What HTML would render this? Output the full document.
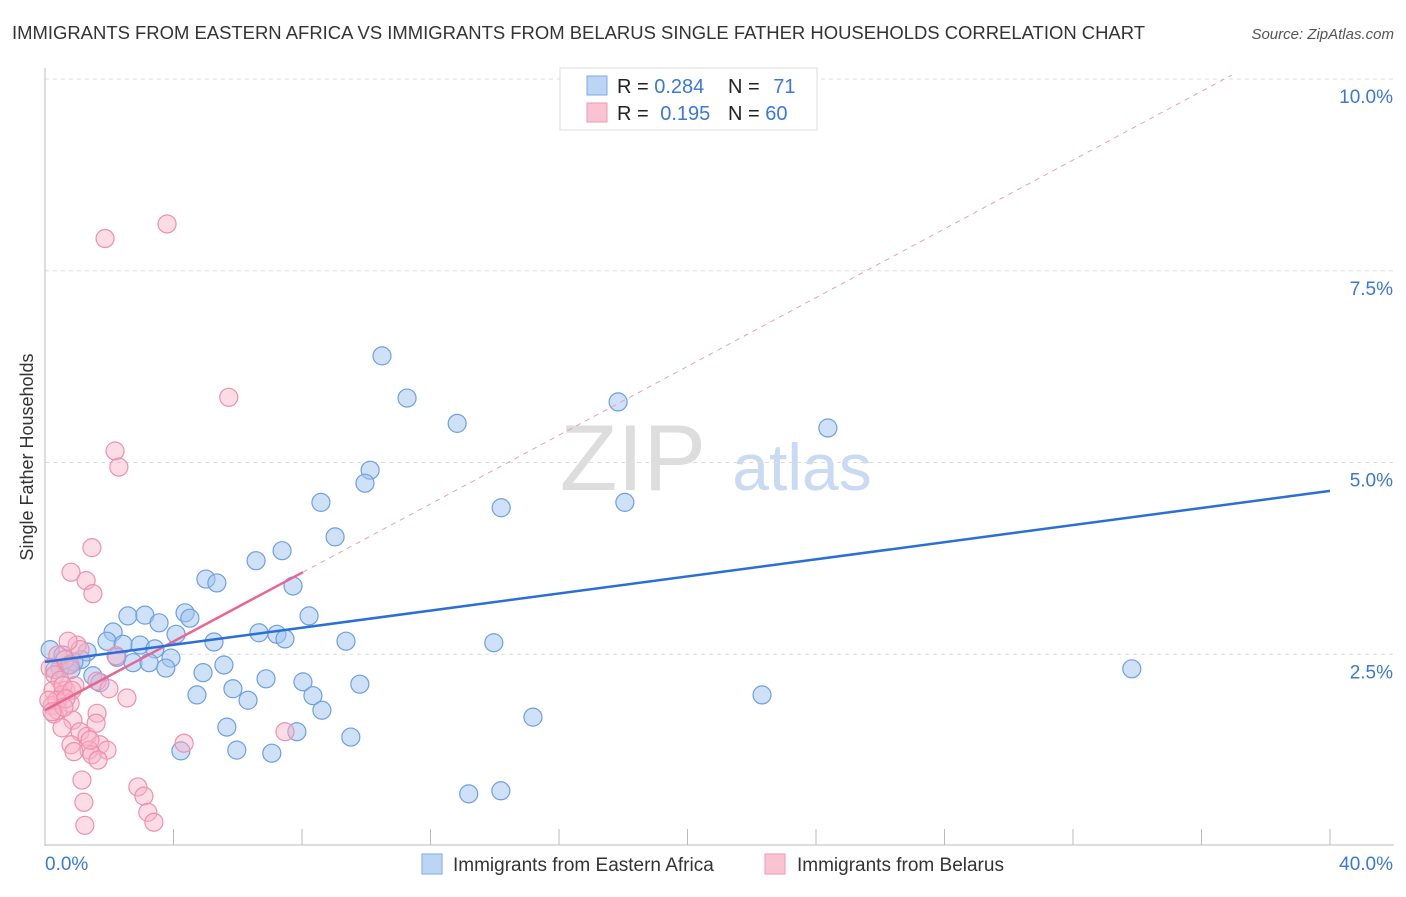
<!DOCTYPE html>
<html><head><meta charset="utf-8">
<style>
body{margin:0;background:#fff;font-family:"Liberation Sans",sans-serif;}
svg text{font-family:"Liberation Sans",sans-serif;}
</style></head>
<body>
<svg id="chart" width="1406" height="892" xmlns="http://www.w3.org/2000/svg">
<text x="12" y="39" font-size="18" fill="#333" textLength="1133" lengthAdjust="spacingAndGlyphs">IMMIGRANTS FROM EASTERN AFRICA VS IMMIGRANTS FROM BELARUS SINGLE FATHER HOUSEHOLDS CORRELATION CHART</text>
<text x="1394" y="39" font-size="15" fill="#555" font-style="italic" text-anchor="end">Source: ZipAtlas.com</text>
<text x="33" y="457" font-size="18" fill="#333" text-anchor="middle" transform="rotate(-90 33 457)">Single Father Households</text>
<text x="633" y="490" font-size="94" fill="#ddd" font-family="Liberation Serif" text-anchor="middle">ZIP</text>
<text x="802" y="490" font-size="66" fill="#c8dbf3" text-anchor="middle">atlas</text>
<g id="grid"></g><g id="axes"></g><g id="pts"></g><g id="lines"></g>
<g>
<rect x="560" y="68" width="257" height="62" fill="#fff" stroke="#ddd"/>
<rect x="587" y="76" width="20" height="19" fill="#bcd4f6" stroke="#7fa9e6"/>
<rect x="587" y="103" width="20" height="19" fill="#f9c3d3" stroke="#ef9ab4"/>
<text x="617" y="93" font-size="20" fill="#222">R = <tspan fill="#3a78d8">0.284</tspan></text>
<text x="728" y="93" font-size="20" fill="#222">N = <tspan fill="#3a78d8" dx="8">71</tspan></text>
<text x="617" y="120" font-size="20" fill="#222">R = <tspan fill="#3a78d8" dx="6">0.195</tspan></text>
<text x="728" y="120" font-size="20" fill="#222">N = <tspan fill="#3a78d8">60</tspan></text>
</g>
<g>
<rect x="422" y="854" width="20" height="20" fill="#bcd4f6" stroke="#7fa9e6"/>
<text x="453" y="871" font-size="19" fill="#333">Immigrants from Eastern Africa</text>
<rect x="765" y="854" width="20" height="20" fill="#f9c3d3" stroke="#ef9ab4"/>
<text x="797" y="871" font-size="19" fill="#333">Immigrants from Belarus</text>
</g>
</svg>
<script>
const xTicks=[0,40];
const yTicks=[2.5,5.0,7.5,10.0];
const blueX=[10.49,11.27,12.83,17.84,24.37,10.12,9.96,8.59,14.20,18.05,9.03,7.38,6.57,7.72,5.01,5.35,2.58,3.11,4.36,4.51,3.55,8.22,2.12,4.08,6.66,7.22,7.47,9.37,5.26,13.97,1.93,2.43,2.96,3.42,1.31,1.12,2.24,2.74,3.24,3.92,3.76,5.57,4.92,6.88,8.03,9.80,1.49,1.71,5.85,4.73,6.32,8.34,8.62,15.19,22.32,33.83,5.66,7.84,9.52,4.23,5.97,7.06,13.19,14.19,0.47,0.72,0.90,0.31,0.16,0.56,0.81];
const blueY=[6.39,5.84,5.51,5.79,5.45,4.90,4.73,4.48,4.41,4.48,4.03,3.85,3.72,3.39,3.48,3.43,3.00,3.01,3.04,2.97,2.91,3.00,2.79,2.76,2.78,2.76,2.70,2.67,2.66,2.65,2.67,2.63,2.62,2.57,2.53,2.43,2.46,2.39,2.39,2.45,2.32,2.36,2.26,2.18,2.14,2.11,2.22,2.13,2.05,1.97,1.90,1.96,1.77,1.68,1.97,2.31,1.55,1.49,1.42,1.24,1.25,1.21,0.68,0.72,2.32,2.36,2.40,2.30,2.56,2.49,2.30];
const pinkX=[1.87,3.80,5.72,2.18,2.30,1.46,0.81,1.28,1.49,1.00,1.09,0.40,0.62,0.78,0.16,0.31,0.47,0.65,0.25,0.53,0.78,0.22,0.40,0.28,1.62,0.87,0.53,1.09,1.31,0.81,1.71,1.93,1.37,1.46,1.65,0.90,4.33,7.47,2.55,1.15,2.89,3.08,3.20,3.39,1.21,1.24,0.93,0.56,0.72,2.21,1.62,1.99,1.40,1.59,0.37,0.12,0.84,0.65,0.59,0.22];
const pinkY=[7.92,8.11,5.85,5.15,4.94,3.89,3.57,3.46,3.29,2.62,2.56,2.49,2.43,2.36,2.32,2.23,2.16,2.03,2.03,1.97,1.86,1.83,1.77,1.72,1.73,1.64,1.54,1.49,1.43,1.32,1.32,1.25,1.25,1.19,1.12,1.23,1.34,1.49,1.93,0.86,0.77,0.65,0.44,0.31,0.57,0.27,2.09,2.09,2.67,2.48,2.15,2.05,1.38,1.60,1.90,1.90,2.03,1.92,1.81,1.75];
const blueTrend=[2.40,4.63];
const pinkTrend=[1.77,3.57]; const pinkTrendX=[0,8.03];
const NS='http://www.w3.org/2000/svg';
const X=v=>45+v/40*1285, Y=v=>846-v/10*767;
function mk(tag,attrs,parent){const e=document.createElementNS(NS,tag);for(const k in attrs)e.setAttribute(k,attrs[k]);document.getElementById(parent).appendChild(e);return e;}
yTicks.forEach(t=>{
 const g=mk('line',{x1:45,x2:1394,y1:Y(t),y2:Y(t),stroke:'#ddd','stroke-dasharray':'4,4'},'grid');
 
 
 const l=mk('text',{x:1393,y:Y(t)+24,'font-size':19,fill:'#3a78d8','text-anchor':'end'},'grid');
 l.textContent=t.toFixed(1)+'%';
 
 
});
mk('line',{x1:45,x2:45,y1:68,y2:846,stroke:'#bbb'},'axes');
mk('line',{x1:45,x2:1394,y1:845,y2:845,stroke:'#bbb'},'axes');
for(let i=1;i<=10;i++){mk('line',{x1:X(i*4),x2:X(i*4),y1:829,y2:845,stroke:'#bbb'},'axes');}
xTicks.forEach((t,i)=>{
 const l=mk('text',{x:i==0?45:1393,y:870,'font-size':19,fill:'#3a78d8','text-anchor':i==0?'start':'end'},'axes');
 l.textContent=t.toFixed(1)+'%';
 
 
});
blueX.forEach((v,i)=>{
 const c=mk('circle',{cx:X(v),cy:Y(blueY[i]),r:9,fill:'rgba(160,196,240,0.5)',stroke:'#6d9fe3','stroke-width':1.2},'pts');
 
 
});
pinkX.forEach((v,i)=>{
 const c=mk('circle',{cx:X(v),cy:Y(pinkY[i]),r:9,fill:'rgba(248,180,200,0.45)',stroke:'#ee8fae','stroke-width':1.2},'pts');
 
 
});
const slope=(pinkTrend[1]-pinkTrend[0])/(pinkTrendX[1]-pinkTrendX[0]);
const xEnd=(10.05-pinkTrend[0])/slope;
const d=mk('line',{x1:X(pinkTrendX[1]),y1:Y(pinkTrend[1]),x2:X(xEnd),y2:Y(10.05),stroke:'#eaa0b8','stroke-dasharray':'5,5'},'lines');


const pl=mk('line',{x1:X(pinkTrendX[0]),y1:Y(pinkTrend[0]),x2:X(pinkTrendX[1]),y2:Y(pinkTrend[1]),stroke:'#e8668f','stroke-width':2.5},'lines');


const bl=mk('line',{x1:X(0),y1:Y(blueTrend[0]),x2:X(40),y2:Y(blueTrend[1]),stroke:'#2a6fd6','stroke-width':2.5},'lines');


</script>
</body></html>
